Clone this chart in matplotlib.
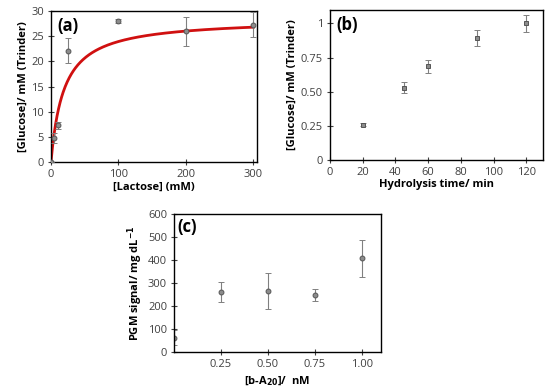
import matplotlib
matplotlib.use("Agg")
import matplotlib.pyplot as plt
import numpy as np

plt.rcParams['font.family'] = ['Open Sans', 'DejaVu Sans']

# Panel (a)
lactose = [0, 5, 10, 25, 100, 200, 300]
glucose_a = [0, 4.7, 7.3, 22.1, 28.0, 26.0, 27.3]
err_a = [0, 1.0, 0.7, 2.5, 0.4, 2.9, 2.5]
Vmax, Km = 28.5, 19.0

# Panel (b)
time_b = [20, 45, 60, 90, 120]
glucose_b = [0.26, 0.53, 0.685, 0.895, 1.0]
err_b = [0.012, 0.04, 0.045, 0.06, 0.06]

# Panel (c)
conc_c = [0, 0.25, 0.50, 0.75, 1.00]
pgm_c = [62, 262, 267, 247, 407]
err_c = [32, 43, 78, 26, 80]

fig = plt.figure(figsize=(5.5, 3.89), dpi=100)

tick_col = '#404040'
mcol = '#8c8c8c'
medge = '#555555'
ecol = '#808080'

def style(ax):
    for s in ax.spines.values():
        s.set_linewidth(1.0)
        s.set_color('black')
    ax.tick_params(direction='inout', length=4, width=0.8, labelsize=8,
                   labelcolor=tick_col, color='#404040', pad=3)

eb_kw = dict(ms=3.5, mfc=mcol, mec=medge, mew=0.7, ecolor=ecol,
             elinewidth=0.8, capsize=2, capthick=0.8)

# (a)
ax1 = fig.add_axes([0.0927, 0.5835, 0.374, 0.388])
xs = np.linspace(0, 300, 400)
ax1.plot(xs, Vmax * xs / (Km + xs), color='#d01010', lw=2, zorder=2)
ax1.errorbar(lactose, glucose_a, yerr=err_a, fmt='o', zorder=3, **eb_kw)
ax1.set_xlim(0, 305)
ax1.set_ylim(0, 30)
ax1.set_xticks([0, 100, 200, 300])
ax1.set_yticks([0, 5, 10, 15, 20, 25, 30])
ax1.set_xlabel('[Lactose] (mM)', fontsize=8, fontweight='bold', labelpad=1)
ax1.set_ylabel('[Glucose]/ mM (Trinder)', fontsize=8, fontweight='bold', labelpad=2)
ax1.text(0.03, 0.9, '(a)', transform=ax1.transAxes, fontsize=12, fontweight='bold', va='center')
style(ax1)

# (b)
ax2 = fig.add_axes([0.6, 0.5887, 0.387, 0.386])
ax2.errorbar(time_b, glucose_b, yerr=err_b, fmt='s', **eb_kw)
ax2.set_xlim(0, 130)
ax2.set_ylim(0, 1.1)
ax2.set_xticks([0, 20, 40, 60, 80, 100, 120])
ax2.set_yticks([0, 0.25, 0.5, 0.75, 1.0])
ax2.set_yticklabels(['0', '0.25', '0.50', '0.75', '1'])
ax2.set_xlabel('Hydrolysis time/ min', fontsize=8, fontweight='bold', labelpad=1)
ax2.set_ylabel('[Glucose]/ mM (Trinder)', fontsize=8, fontweight='bold', labelpad=2)
ax2.text(0.03, 0.9, '(b)', transform=ax2.transAxes, fontsize=12, fontweight='bold', va='center')
style(ax2)

# (c)
ax3 = fig.add_axes([0.3164, 0.0951, 0.376, 0.355])
ax3.errorbar(conc_c, pgm_c, yerr=err_c, fmt='o', **eb_kw)
ax3.set_xlim(0, 1.1)
ax3.set_ylim(0, 600)
ax3.set_xticks([0.25, 0.5, 0.75, 1.0])
ax3.set_xticklabels(['0.25', '0.50', '0.75', '1.00'])
ax3.set_yticks([0, 100, 200, 300, 400, 500, 600])
ax3.set_xlabel('[b-A$_{\\mathbf{20}}$]/  nM', fontsize=8, fontweight='bold', labelpad=3)
ax3.set_ylabel('PGM signal/ mg dL$^{\\mathbf{-1}}$', fontsize=8, fontweight='bold', labelpad=2)
ax3.text(0.015, 0.905, '(c)', transform=ax3.transAxes, fontsize=12, fontweight='bold', va='center')
style(ax3)

fig.savefig('out.png', dpi=100)
